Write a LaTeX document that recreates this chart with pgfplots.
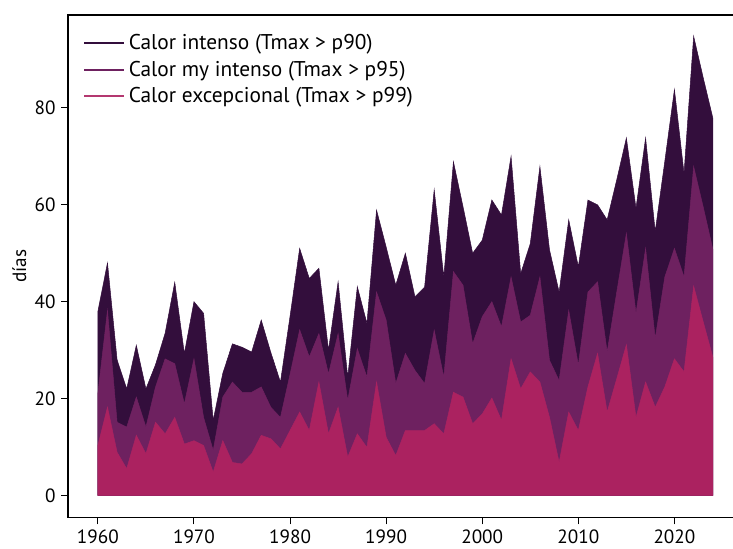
\documentclass[border=0pt]{standalone}
\usepackage{pgfplots}
\pgfplotsset{compat=1.18}
\usepackage{fontspec}
\setmainfont{PT Sans}
\definecolor{cA}{HTML}{330E3C}
\definecolor{cB}{HTML}{6E2160}
\definecolor{cC}{HTML}{AB2260}
\begin{document}
\begin{tikzpicture}
\begin{axis}[name=ax,
  width=399pt, height=301.2pt, scale only axis,
  xmin=1956.9, xmax=2026.2, ymin=-4.6, ymax=99.2,
  xtick={1960,1970,...,2020}, ytick={0,20,...,80},
  xticklabel style={/pgf/number format/1000 sep={}},
  /pgf/number format/assume math mode=true,
  tick align=outside, xtick pos=bottom, ytick pos=left,
  major tick length=4pt,
  tick style={black, line width=0.6pt},
  axis line style={black, line width=0.8pt},
  ticklabel style={font=\fontsize{11.5}{13}\selectfont},
  ylabel={días}, ylabel style={font=\fontsize{11.5}{13}\selectfont, yshift=-2pt},
  legend style={draw=none, fill=none, at={(0.015,0.975)}, anchor=north west,
    font=\fontsize{12.8}{15}\selectfont, row sep=1.2pt},
  legend cell align=left,
  legend image code/.code={\draw[#1, line width=1.2pt] (0pt,0pt) -- (24pt,0pt);},
]
\addplot[fill=cA, draw=cA, line width=0.3pt, forget plot] coordinates {
(1960,38)(1961,48)(1962,28)(1963,22)(1964,31)(1965,22)(1966,27)(1967,33.5)(1968,44)(1969,29.3)
(1970,40)(1971,37.6)(1972,15.5)(1973,25.2)(1974,31.3)(1975,30.6)(1976,29.6)(1977,36.2)(1978,29.5)(1979,23.4)
(1980,37)(1981,51)(1982,44.8)(1983,46.9)(1984,30)(1985,44.1)(1986,24.4)(1987,43.1)(1988,35.5)(1989,58.9)
(1990,51.3)(1991,43.4)(1992,50)(1993,41)(1994,43)(1995,63.1)(1996,45.1)(1997,68.9)(1998,59.6)(1999,50)
(2000,52.7)(2001,61)(2002,57.9)(2003,70)(2004,45.8)(2005,52)(2006,67.9)(2007,50.7)(2008,42)(2009,56.9)
(2010,47.2)(2011,61)(2012,60)(2013,56.9)(2014,65.2)(2015,73.8)(2016,59.3)(2017,73.8)(2018,54.5)(2019,69)
(2020,83.8)(2021,66.5)(2022,94.8)(2023,86.2)(2024,77.9)
} \closedcycle;
\addplot[fill=cB, draw=cB, line width=0.3pt, forget plot] coordinates {
(1960,21)(1961,38.2)(1962,15.1)(1963,14.1)(1964,20.3)(1965,14.1)(1966,22.4)(1967,28.2)(1968,27.2)(1969,18.9)
(1970,28.2)(1971,16.1)(1972,9.3)(1973,20.3)(1974,23.4)(1975,21.3)(1976,21.3)(1977,22.4)(1978,18.2)(1979,16.1)
(1980,25)(1981,34.2)(1982,28.6)(1983,33.4)(1984,25.1)(1985,33.4)(1986,19.6)(1987,30.3)(1988,24.4)(1989,42)
(1990,36.2)(1991,23.1)(1992,29.3)(1993,25.8)(1994,23.1)(1995,34.1)(1996,24.4)(1997,46.2)(1998,43.4)(1999,31.3)
(2000,36.9)(2001,40)(2002,34.8)(2003,45.1)(2004,35.8)(2005,37.2)(2006,45.1)(2007,27.9)(2008,23.7)(2009,38.2)
(2010,26.9)(2011,42)(2012,44.1)(2013,29.6)(2014,42)(2015,54.1)(2016,37.6)(2017,51)(2018,32.4)(2019,45.1)
(2020,51)(2021,45.1)(2022,67.9)(2023,59.5)(2024,50.8)
} \closedcycle;
\addplot[fill=cC, draw=cC, line width=0.3pt, forget plot] coordinates {
(1960,10.3)(1961,18.2)(1962,8.9)(1963,5.5)(1964,12.4)(1965,8.6)(1966,15.1)(1967,12.7)(1968,16.1)(1969,10.6)
(1970,11.3)(1971,10.3)(1972,4.8)(1973,11.3)(1974,6.8)(1975,6.5)(1976,8.6)(1977,12.4)(1978,11.7)(1979,9.6)
(1980,13.4)(1981,17.2)(1982,13.4)(1983,23.4)(1984,12.7)(1985,18.2)(1986,7.9)(1987,12.7)(1988,9.9)(1989,23.4)
(1990,12)(1991,8.2)(1992,13.4)(1993,13.4)(1994,13.4)(1995,14.8)(1996,12.7)(1997,21.3)(1998,20.3)(1999,14.8)
(2000,16.8)(2001,20.1)(2002,15.5)(2003,28.2)(2004,22)(2005,25.5)(2006,23.4)(2007,16.1)(2008,6.8)(2009,17.2)
(2010,13.4)(2011,22.4)(2012,29.3)(2013,17.2)(2014,24.1)(2015,31.1)(2016,16.1)(2017,23.4)(2018,18.2)(2019,22.4)
(2020,28.2)(2021,25.5)(2022,43.2)(2023,35.8)(2024,28.5)
} \closedcycle;
\addlegendimage{cA}
\addlegendentry{Calor intenso (Tmax > p90)}
\addlegendimage{cB}
\addlegendentry{Calor my intenso (Tmax > p95)}
\addlegendimage{cC!90!white}
\addlegendentry{Calor excepcional (Tmax > p99)}
\end{axis}
\pgfresetboundingbox
\path[use as bounding box] ([shift={(-40.8pt,-18.6pt)}]ax.south west) rectangle ([shift={(-0.6pt,9pt)}]ax.north east);
\end{tikzpicture}
\end{document}
